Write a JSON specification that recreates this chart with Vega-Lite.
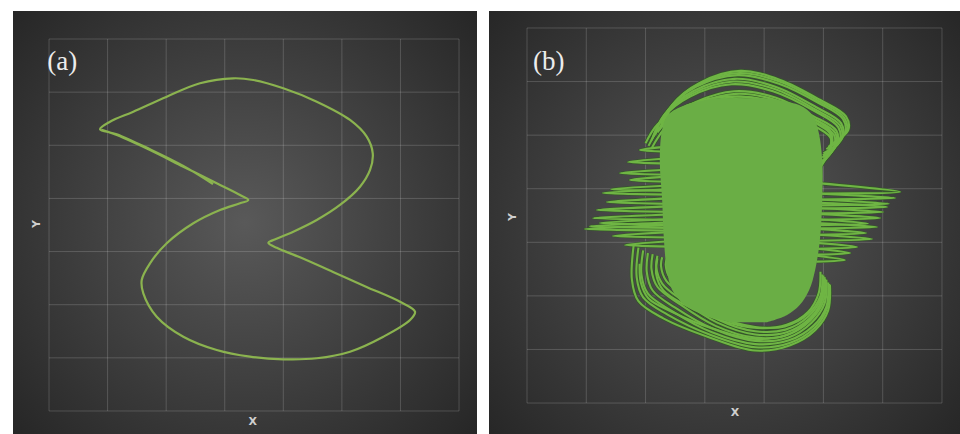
{
  "$schema": "https://vega.github.io/schema/vega-lite/v6.json",
  "background": "white",
  "padding": {"left": 13, "top": 11, "right": 0, "bottom": 0},
  "spacing": 12,
  "config": {"view": {"stroke": null}},
  "datasets": {
    "grid": [{"g": 0}, {"g": 1}, {"g": 2}, {"g": 3}, {"g": 4}, {"g": 5}, {"g": 6}, {"g": 7}],
    "curveA": [
      {"o": 1, "x": 2.80, "y": 4.27}, {"o": 2, "x": 2.293, "y": 4.612}, {"o": 3, "x": 1.724, "y": 4.926}, {"o": 4, "x": 1.156, "y": 5.209},
      {"o": 5, "x": 0.871, "y": 5.301}, {"o": 6, "x": 1.041, "y": 5.444}, {"o": 7, "x": 1.439, "y": 5.632}, {"o": 8, "x": 2.010, "y": 5.915},
      {"o": 9, "x": 2.578, "y": 6.167}, {"o": 10, "x": 3.147, "y": 6.261}, {"o": 11, "x": 3.488, "y": 6.229}, {"o": 12, "x": 4.000, "y": 6.073},
      {"o": 13, "x": 4.571, "y": 5.820}, {"o": 14, "x": 5.139, "y": 5.476}, {"o": 15, "x": 5.424, "y": 5.162}, {"o": 16, "x": 5.527, "y": 4.849},
      {"o": 17, "x": 5.481, "y": 4.535}, {"o": 18, "x": 5.310, "y": 4.221}, {"o": 19, "x": 4.968, "y": 3.877}, {"o": 20, "x": 4.571, "y": 3.594},
      {"o": 21, "x": 4.171, "y": 3.374}, {"o": 22, "x": 3.830, "y": 3.218}, {"o": 23, "x": 3.744, "y": 3.167}, {"o": 24, "x": 3.888, "y": 3.070},
      {"o": 25, "x": 4.285, "y": 2.892}, {"o": 26, "x": 4.849, "y": 2.616}, {"o": 27, "x": 5.412, "y": 2.339}, {"o": 28, "x": 5.993, "y": 2.055},
      {"o": 29, "x": 6.249, "y": 1.869}, {"o": 30, "x": 6.164, "y": 1.712}, {"o": 31, "x": 5.708, "y": 1.398}, {"o": 32, "x": 5.139, "y": 1.116},
      {"o": 33, "x": 4.571, "y": 0.992}, {"o": 34, "x": 4.000, "y": 0.973}, {"o": 35, "x": 3.432, "y": 1.022}, {"o": 36, "x": 2.863, "y": 1.148},
      {"o": 37, "x": 2.293, "y": 1.398}, {"o": 38, "x": 1.839, "y": 1.775}, {"o": 39, "x": 1.610, "y": 2.215}, {"o": 40, "x": 1.583, "y": 2.465},
      {"o": 41, "x": 1.724, "y": 2.779}, {"o": 42, "x": 2.010, "y": 3.156}, {"o": 43, "x": 2.464, "y": 3.532}, {"o": 44, "x": 2.920, "y": 3.782},
      {"o": 45, "x": 3.261, "y": 3.908}, {"o": 46, "x": 3.403, "y": 3.971}, {"o": 47, "x": 3.261, "y": 4.065}, {"o": 48, "x": 2.863, "y": 4.285},
      {"o": 49, "x": 2.293, "y": 4.597}, {"o": 50, "x": 1.724, "y": 4.911}, {"o": 51, "x": 1.156, "y": 5.194}, {"o": 52, "x": 0.90, "y": 5.29}
    ],
    "blob": [
      {"y": 5.69, "xl": 3.17, "xr": 4.01}, {"y": 5.56, "xl": 2.66, "xr": 4.60}, {"y": 5.38, "xl": 2.38, "xr": 4.81},
      {"y": 5.10, "xl": 2.28, "xr": 4.91}, {"y": 4.54, "xl": 2.24, "xr": 4.98}, {"y": 3.79, "xl": 2.28, "xr": 4.98},
      {"y": 3.04, "xl": 2.31, "xr": 4.94}, {"y": 2.48, "xl": 2.36, "xr": 4.86}, {"y": 2.11, "xl": 2.45, "xr": 4.76},
      {"y": 1.83, "xl": 2.66, "xr": 4.60}, {"y": 1.64, "xl": 3.00, "xr": 4.38}, {"y": 1.51, "xl": 3.45, "xr": 4.05}
    ],
    "strands": [
      {"s": "t1", "o": 1, "x": 2.33, "y": 5.19}, {"s": "t1", "o": 2, "x": 2.45, "y": 5.56}, {"s": "t1", "o": 3, "x": 2.92, "y": 5.98}, {"s": "t1", "o": 4, "x": 3.60, "y": 6.20}, {"s": "t1", "o": 5, "x": 4.27, "y": 6.03}, {"s": "t1", "o": 6, "x": 4.94, "y": 5.66}, {"s": "t1", "o": 7, "x": 5.38, "y": 5.35}, {"s": "t1", "o": 8, "x": 5.42, "y": 5.10}, {"s": "t1", "o": 9, "x": 5.11, "y": 4.82},
      {"s": "t9", "o": 1, "x": 2.28, "y": 5.15}, {"s": "t9", "o": 2, "x": 2.42, "y": 5.52}, {"s": "t9", "o": 3, "x": 2.88, "y": 5.94}, {"s": "t9", "o": 4, "x": 3.58, "y": 6.16}, {"s": "t9", "o": 5, "x": 4.26, "y": 6.00}, {"s": "t9", "o": 6, "x": 4.93, "y": 5.63}, {"s": "t9", "o": 7, "x": 5.35, "y": 5.33}, {"s": "t9", "o": 8, "x": 5.39, "y": 5.07}, {"s": "t9", "o": 9, "x": 5.08, "y": 4.78},
      {"s": "t2", "o": 1, "x": 2.24, "y": 5.10}, {"s": "t2", "o": 2, "x": 2.38, "y": 5.47}, {"s": "t2", "o": 3, "x": 2.85, "y": 5.90}, {"s": "t2", "o": 4, "x": 3.55, "y": 6.12}, {"s": "t2", "o": 5, "x": 4.25, "y": 5.96}, {"s": "t2", "o": 6, "x": 4.92, "y": 5.60}, {"s": "t2", "o": 7, "x": 5.33, "y": 5.30}, {"s": "t2", "o": 8, "x": 5.36, "y": 5.03}, {"s": "t2", "o": 9, "x": 5.05, "y": 4.74},
      {"s": "t3", "o": 1, "x": 2.16, "y": 5.00}, {"s": "t3", "o": 2, "x": 2.33, "y": 5.40}, {"s": "t3", "o": 3, "x": 2.80, "y": 5.82}, {"s": "t3", "o": 4, "x": 3.50, "y": 6.05}, {"s": "t3", "o": 5, "x": 4.20, "y": 5.90}, {"s": "t3", "o": 6, "x": 4.88, "y": 5.52}, {"s": "t3", "o": 7, "x": 5.30, "y": 5.22}, {"s": "t3", "o": 8, "x": 5.32, "y": 4.95}, {"s": "t3", "o": 9, "x": 5.00, "y": 4.66},
      {"s": "t10", "o": 1, "x": 2.12, "y": 4.95}, {"s": "t10", "o": 2, "x": 2.31, "y": 5.37}, {"s": "t10", "o": 3, "x": 2.78, "y": 5.77}, {"s": "t10", "o": 4, "x": 3.48, "y": 6.00}, {"s": "t10", "o": 5, "x": 4.18, "y": 5.86}, {"s": "t10", "o": 6, "x": 4.86, "y": 5.48}, {"s": "t10", "o": 7, "x": 5.28, "y": 5.18}, {"s": "t10", "o": 8, "x": 5.30, "y": 4.92}, {"s": "t10", "o": 9, "x": 4.99, "y": 4.62},
      {"s": "t4", "o": 1, "x": 2.10, "y": 4.90}, {"s": "t4", "o": 2, "x": 2.30, "y": 5.33}, {"s": "t4", "o": 3, "x": 2.75, "y": 5.72}, {"s": "t4", "o": 4, "x": 3.45, "y": 5.95}, {"s": "t4", "o": 5, "x": 4.15, "y": 5.82}, {"s": "t4", "o": 6, "x": 4.85, "y": 5.45}, {"s": "t4", "o": 7, "x": 5.25, "y": 5.15}, {"s": "t4", "o": 8, "x": 5.27, "y": 4.88}, {"s": "t4", "o": 9, "x": 4.98, "y": 4.58},
      {"s": "t5", "o": 1, "x": 2.20, "y": 5.05}, {"s": "t5", "o": 2, "x": 2.40, "y": 5.30}, {"s": "t5", "o": 3, "x": 2.85, "y": 5.62}, {"s": "t5", "o": 4, "x": 3.50, "y": 5.82}, {"s": "t5", "o": 5, "x": 4.20, "y": 5.70}, {"s": "t5", "o": 6, "x": 4.82, "y": 5.36}, {"s": "t5", "o": 7, "x": 5.22, "y": 5.08}, {"s": "t5", "o": 8, "x": 5.22, "y": 4.82}, {"s": "t5", "o": 9, "x": 4.96, "y": 4.50},
      {"s": "t12", "o": 1, "x": 2.25, "y": 5.02}, {"s": "t12", "o": 2, "x": 2.45, "y": 5.28}, {"s": "t12", "o": 3, "x": 2.90, "y": 5.59}, {"s": "t12", "o": 4, "x": 3.52, "y": 5.77}, {"s": "t12", "o": 5, "x": 4.21, "y": 5.65}, {"s": "t12", "o": 6, "x": 4.81, "y": 5.32}, {"s": "t12", "o": 7, "x": 5.20, "y": 5.04}, {"s": "t12", "o": 8, "x": 5.20, "y": 4.79}, {"s": "t12", "o": 9, "x": 4.95, "y": 4.48},
      {"s": "t6", "o": 1, "x": 2.30, "y": 5.00}, {"s": "t6", "o": 2, "x": 2.50, "y": 5.25}, {"s": "t6", "o": 3, "x": 2.95, "y": 5.55}, {"s": "t6", "o": 4, "x": 3.55, "y": 5.72}, {"s": "t6", "o": 5, "x": 4.22, "y": 5.60}, {"s": "t6", "o": 6, "x": 4.80, "y": 5.28}, {"s": "t6", "o": 7, "x": 5.18, "y": 5.00}, {"s": "t6", "o": 8, "x": 5.17, "y": 4.75}, {"s": "t6", "o": 9, "x": 4.95, "y": 4.45},
      {"s": "t7", "o": 1, "x": 2.00, "y": 4.85}, {"s": "t7", "o": 2, "x": 2.20, "y": 5.20}, {"s": "t7", "o": 3, "x": 2.60, "y": 5.50}, {"s": "t7", "o": 4, "x": 3.20, "y": 5.70}, {"s": "t7", "o": 5, "x": 3.90, "y": 5.68}, {"s": "t7", "o": 6, "x": 4.60, "y": 5.42}, {"s": "t7", "o": 7, "x": 5.10, "y": 5.10}, {"s": "t7", "o": 8, "x": 5.15, "y": 4.85}, {"s": "t7", "o": 9, "x": 4.93, "y": 4.40},
      {"s": "t11", "o": 1, "x": 2.05, "y": 4.80}, {"s": "t11", "o": 2, "x": 2.27, "y": 5.18}, {"s": "t11", "o": 3, "x": 2.70, "y": 5.48}, {"s": "t11", "o": 4, "x": 3.30, "y": 5.66}, {"s": "t11", "o": 5, "x": 3.98, "y": 5.62}, {"s": "t11", "o": 6, "x": 4.65, "y": 5.34}, {"s": "t11", "o": 7, "x": 5.11, "y": 5.03}, {"s": "t11", "o": 8, "x": 5.12, "y": 4.78}, {"s": "t11", "o": 9, "x": 4.92, "y": 4.38},
      {"s": "t8", "o": 1, "x": 2.10, "y": 4.75}, {"s": "t8", "o": 2, "x": 2.35, "y": 5.15}, {"s": "t8", "o": 3, "x": 2.80, "y": 5.45}, {"s": "t8", "o": 4, "x": 3.40, "y": 5.62}, {"s": "t8", "o": 5, "x": 4.05, "y": 5.55}, {"s": "t8", "o": 6, "x": 4.70, "y": 5.25}, {"s": "t8", "o": 7, "x": 5.12, "y": 4.95}, {"s": "t8", "o": 8, "x": 5.10, "y": 4.70}, {"s": "t8", "o": 9, "x": 4.92, "y": 4.35},
      {"s": "b1", "o": 1, "x": 1.80, "y": 2.95}, {"s": "b1", "o": 2, "x": 1.77, "y": 2.30}, {"s": "b1", "o": 3, "x": 1.88, "y": 1.90}, {"s": "b1", "o": 4, "x": 2.30, "y": 1.58}, {"s": "b1", "o": 5, "x": 3.09, "y": 1.22}, {"s": "b1", "o": 6, "x": 3.85, "y": 0.98}, {"s": "b1", "o": 7, "x": 4.44, "y": 1.08}, {"s": "b1", "o": 8, "x": 4.86, "y": 1.36}, {"s": "b1", "o": 9, "x": 5.08, "y": 1.73}, {"s": "b1", "o": 10, "x": 5.11, "y": 2.20},
      {"s": "b8", "o": 1, "x": 1.88, "y": 2.90}, {"s": "b8", "o": 2, "x": 1.85, "y": 2.35}, {"s": "b8", "o": 3, "x": 1.96, "y": 1.97}, {"s": "b8", "o": 4, "x": 2.37, "y": 1.65}, {"s": "b8", "o": 5, "x": 3.10, "y": 1.27}, {"s": "b8", "o": 6, "x": 3.85, "y": 1.04}, {"s": "b8", "o": 7, "x": 4.43, "y": 1.12}, {"s": "b8", "o": 8, "x": 4.85, "y": 1.40}, {"s": "b8", "o": 9, "x": 5.06, "y": 1.77}, {"s": "b8", "o": 10, "x": 5.10, "y": 2.22},
      {"s": "b2", "o": 1, "x": 1.96, "y": 2.85}, {"s": "b2", "o": 2, "x": 1.93, "y": 2.40}, {"s": "b2", "o": 3, "x": 2.04, "y": 2.04}, {"s": "b2", "o": 4, "x": 2.44, "y": 1.72}, {"s": "b2", "o": 5, "x": 3.12, "y": 1.32}, {"s": "b2", "o": 6, "x": 3.85, "y": 1.10}, {"s": "b2", "o": 7, "x": 4.42, "y": 1.17}, {"s": "b2", "o": 8, "x": 4.83, "y": 1.44}, {"s": "b2", "o": 9, "x": 5.05, "y": 1.80}, {"s": "b2", "o": 10, "x": 5.08, "y": 2.25},
      {"s": "b3", "o": 1, "x": 2.04, "y": 2.80}, {"s": "b3", "o": 2, "x": 2.02, "y": 2.45}, {"s": "b3", "o": 3, "x": 2.12, "y": 2.10}, {"s": "b3", "o": 4, "x": 2.50, "y": 1.78}, {"s": "b3", "o": 5, "x": 3.15, "y": 1.38}, {"s": "b3", "o": 6, "x": 3.85, "y": 1.16}, {"s": "b3", "o": 7, "x": 4.40, "y": 1.22}, {"s": "b3", "o": 8, "x": 4.80, "y": 1.50}, {"s": "b3", "o": 9, "x": 5.02, "y": 1.86}, {"s": "b3", "o": 10, "x": 5.05, "y": 2.30},
      {"s": "b9", "o": 1, "x": 2.12, "y": 2.78}, {"s": "b9", "o": 2, "x": 2.10, "y": 2.50}, {"s": "b9", "o": 3, "x": 2.20, "y": 2.17}, {"s": "b9", "o": 4, "x": 2.57, "y": 1.85}, {"s": "b9", "o": 5, "x": 3.18, "y": 1.44}, {"s": "b9", "o": 6, "x": 3.85, "y": 1.22}, {"s": "b9", "o": 7, "x": 4.39, "y": 1.27}, {"s": "b9", "o": 8, "x": 4.78, "y": 1.54}, {"s": "b9", "o": 9, "x": 5.00, "y": 1.90}, {"s": "b9", "o": 10, "x": 5.03, "y": 2.32},
      {"s": "b4", "o": 1, "x": 2.20, "y": 2.75}, {"s": "b4", "o": 2, "x": 2.18, "y": 2.54}, {"s": "b4", "o": 3, "x": 2.28, "y": 2.23}, {"s": "b4", "o": 4, "x": 2.63, "y": 1.91}, {"s": "b4", "o": 5, "x": 3.21, "y": 1.50}, {"s": "b4", "o": 6, "x": 3.85, "y": 1.28}, {"s": "b4", "o": 7, "x": 4.38, "y": 1.32}, {"s": "b4", "o": 8, "x": 4.77, "y": 1.58}, {"s": "b4", "o": 9, "x": 4.98, "y": 1.93}, {"s": "b4", "o": 10, "x": 5.02, "y": 2.35},
      {"s": "b10", "o": 1, "x": 2.28, "y": 2.72}, {"s": "b10", "o": 2, "x": 2.26, "y": 2.56}, {"s": "b10", "o": 3, "x": 2.35, "y": 2.28}, {"s": "b10", "o": 4, "x": 2.70, "y": 1.97}, {"s": "b10", "o": 5, "x": 3.24, "y": 1.55}, {"s": "b10", "o": 6, "x": 3.85, "y": 1.34}, {"s": "b10", "o": 7, "x": 4.36, "y": 1.37}, {"s": "b10", "o": 8, "x": 4.75, "y": 1.62}, {"s": "b10", "o": 9, "x": 4.96, "y": 1.96}, {"s": "b10", "o": 10, "x": 5.00, "y": 2.38},
      {"s": "b5", "o": 1, "x": 2.36, "y": 2.70}, {"s": "b5", "o": 2, "x": 2.34, "y": 2.58}, {"s": "b5", "o": 3, "x": 2.42, "y": 2.32}, {"s": "b5", "o": 4, "x": 2.76, "y": 2.02}, {"s": "b5", "o": 5, "x": 3.27, "y": 1.60}, {"s": "b5", "o": 6, "x": 3.85, "y": 1.42}, {"s": "b5", "o": 7, "x": 4.35, "y": 1.43}, {"s": "b5", "o": 8, "x": 4.74, "y": 1.66}, {"s": "b5", "o": 9, "x": 4.95, "y": 2.00}, {"s": "b5", "o": 10, "x": 4.98, "y": 2.40},
      {"s": "b6", "o": 1, "x": 1.90, "y": 2.60}, {"s": "b6", "o": 2, "x": 1.92, "y": 2.25}, {"s": "b6", "o": 3, "x": 2.05, "y": 1.95}, {"s": "b6", "o": 4, "x": 2.45, "y": 1.70}, {"s": "b6", "o": 5, "x": 3.10, "y": 1.40}, {"s": "b6", "o": 6, "x": 3.80, "y": 1.20}, {"s": "b6", "o": 7, "x": 4.35, "y": 1.26}, {"s": "b6", "o": 8, "x": 4.72, "y": 1.50}, {"s": "b6", "o": 9, "x": 4.95, "y": 1.85}, {"s": "b6", "o": 10, "x": 5.00, "y": 2.20},
      {"s": "b7", "o": 1, "x": 2.20, "y": 2.70}, {"s": "b7", "o": 2, "x": 2.18, "y": 2.40}, {"s": "b7", "o": 3, "x": 2.30, "y": 2.10}, {"s": "b7", "o": 4, "x": 2.65, "y": 1.84}, {"s": "b7", "o": 5, "x": 3.25, "y": 1.55}, {"s": "b7", "o": 6, "x": 3.88, "y": 1.40}, {"s": "b7", "o": 7, "x": 4.38, "y": 1.46}, {"s": "b7", "o": 8, "x": 4.74, "y": 1.70}, {"s": "b7", "o": 9, "x": 4.92, "y": 2.05}, {"s": "b7", "o": 10, "x": 4.95, "y": 2.45},
      {"s": "l1", "o": 1, "x": 2.40, "y": 4.79}, {"s": "l1", "o": 2, "x": 1.906, "y": 4.723}, {"s": "l1", "o": 3, "x": 2.40, "y": 4.69},
      {"s": "l2", "o": 1, "x": 2.40, "y": 4.57}, {"s": "l2", "o": 2, "x": 1.704, "y": 4.499}, {"s": "l2", "o": 3, "x": 2.40, "y": 4.47},
      {"s": "l3", "o": 1, "x": 2.40, "y": 4.36}, {"s": "l3", "o": 2, "x": 1.569, "y": 4.293}, {"s": "l3", "o": 3, "x": 2.40, "y": 4.26},
      {"s": "l4", "o": 1, "x": 2.40, "y": 4.23}, {"s": "l4", "o": 2, "x": 1.737, "y": 4.163}, {"s": "l4", "o": 3, "x": 2.40, "y": 4.13},
      {"s": "l13", "o": 1, "x": 2.40, "y": 4.06}, {"s": "l13", "o": 2, "x": 1.420, "y": 3.990}, {"s": "l13", "o": 3, "x": 2.40, "y": 3.96},
      {"s": "l5", "o": 1, "x": 2.40, "y": 3.99}, {"s": "l5", "o": 2, "x": 1.282, "y": 3.920}, {"s": "l5", "o": 3, "x": 2.40, "y": 3.89},
      {"s": "l6", "o": 1, "x": 2.40, "y": 3.82}, {"s": "l6", "o": 2, "x": 1.349, "y": 3.752}, {"s": "l6", "o": 3, "x": 2.40, "y": 3.72},
      {"s": "l7", "o": 1, "x": 2.40, "y": 3.67}, {"s": "l7", "o": 2, "x": 1.181, "y": 3.603}, {"s": "l7", "o": 3, "x": 2.40, "y": 3.57},
      {"s": "l8", "o": 1, "x": 2.40, "y": 3.52}, {"s": "l8", "o": 2, "x": 1.113, "y": 3.453}, {"s": "l8", "o": 3, "x": 2.40, "y": 3.42},
      {"s": "l9", "o": 1, "x": 2.40, "y": 3.43}, {"s": "l9", "o": 2, "x": 1.231, "y": 3.360}, {"s": "l9", "o": 3, "x": 2.40, "y": 3.33},
      {"s": "l14", "o": 1, "x": 2.40, "y": 3.37}, {"s": "l14", "o": 2, "x": 1.060, "y": 3.300}, {"s": "l14", "o": 3, "x": 2.40, "y": 3.27},
      {"s": "l10", "o": 1, "x": 2.40, "y": 3.32}, {"s": "l10", "o": 2, "x": 0.978, "y": 3.248}, {"s": "l10", "o": 3, "x": 2.40, "y": 3.22},
      {"s": "l11", "o": 1, "x": 2.40, "y": 3.19}, {"s": "l11", "o": 2, "x": 1.450, "y": 3.117}, {"s": "l11", "o": 3, "x": 2.40, "y": 3.09},
      {"s": "l12", "o": 1, "x": 2.40, "y": 3.02}, {"s": "l12", "o": 2, "x": 1.653, "y": 2.949}, {"s": "l12", "o": 3, "x": 2.40, "y": 2.92},
      {"s": "r1", "o": 1, "x": 4.95, "y": 4.10}, {"s": "r1", "o": 2, "x": 6.291, "y": 3.939}, {"s": "r1", "o": 3, "x": 4.88, "y": 3.91},
      {"s": "r2", "o": 1, "x": 4.88, "y": 3.91}, {"s": "r2", "o": 2, "x": 6.207, "y": 3.827}, {"s": "r2", "o": 3, "x": 4.88, "y": 3.80},
      {"s": "r12", "o": 1, "x": 4.88, "y": 3.80}, {"s": "r12", "o": 2, "x": 6.100, "y": 3.720}, {"s": "r12", "o": 3, "x": 4.88, "y": 3.69},
      {"s": "r3", "o": 1, "x": 4.88, "y": 3.74}, {"s": "r3", "o": 2, "x": 6.072, "y": 3.659}, {"s": "r3", "o": 3, "x": 4.88, "y": 3.63},
      {"s": "r4", "o": 1, "x": 4.88, "y": 3.64}, {"s": "r4", "o": 2, "x": 6.004, "y": 3.565}, {"s": "r4", "o": 3, "x": 4.88, "y": 3.54},
      {"s": "r5", "o": 1, "x": 4.88, "y": 3.53}, {"s": "r5", "o": 2, "x": 5.954, "y": 3.453}, {"s": "r5", "o": 3, "x": 4.88, "y": 3.42},
      {"s": "r13", "o": 1, "x": 4.88, "y": 3.43}, {"s": "r13", "o": 2, "x": 5.750, "y": 3.350}, {"s": "r13", "o": 3, "x": 4.88, "y": 3.32},
      {"s": "r6", "o": 1, "x": 4.88, "y": 3.36}, {"s": "r6", "o": 2, "x": 5.903, "y": 3.285}, {"s": "r6", "o": 3, "x": 4.88, "y": 3.26},
      {"s": "r7", "o": 1, "x": 4.88, "y": 3.25}, {"s": "r7", "o": 2, "x": 5.718, "y": 3.173}, {"s": "r7", "o": 3, "x": 4.88, "y": 3.14},
      {"s": "r8", "o": 1, "x": 4.88, "y": 3.14}, {"s": "r8", "o": 2, "x": 5.819, "y": 3.061}, {"s": "r8", "o": 3, "x": 4.88, "y": 3.03},
      {"s": "r9", "o": 1, "x": 4.88, "y": 2.99}, {"s": "r9", "o": 2, "x": 5.566, "y": 2.912}, {"s": "r9", "o": 3, "x": 4.88, "y": 2.88},
      {"s": "r10", "o": 1, "x": 4.88, "y": 2.88}, {"s": "r10", "o": 2, "x": 5.448, "y": 2.800}, {"s": "r10", "o": 3, "x": 4.88, "y": 2.77},
      {"s": "r11", "o": 1, "x": 4.88, "y": 2.75}, {"s": "r11", "o": 2, "x": 5.363, "y": 2.669}, {"s": "r11", "o": 3, "x": 4.88, "y": 2.64}
    ]
  },
  "hconcat": [
    {
      "width": 464,
      "height": 423,
      "layer": [
        {
          "data": {"values": [{"k": 1}]},
          "mark": {"type": "rect", "color": {"gradient": "radial", "x1": 0.5, "y1": 0.5, "r1": 0, "x2": 0.5, "y2": 0.5, "r2": 0.72, "stops": [{"offset": 0, "color": "#595959"}, {"offset": 1, "color": "#232323"}]}},
          "encoding": {
            "x": {"datum": -0.615, "type": "quantitative", "scale": {"domain": [-0.615, 7.307], "nice": false, "zero": false}, "axis": null},
            "x2": {"datum": 7.307},
            "y": {"datum": -0.433, "type": "quantitative", "scale": {"domain": [-0.433, 7.527], "nice": false, "zero": false}, "axis": null},
            "y2": {"datum": 7.527}
          }
        },
        {
          "data": {"name": "grid"},
          "mark": {"type": "rule", "color": "#ffffff", "opacity": 0.17, "strokeWidth": 1},
          "encoding": {
            "x": {"field": "g", "type": "quantitative", "scale": {"domain": [-0.615, 7.307], "nice": false, "zero": false}, "axis": null},
            "y": {"datum": 0, "type": "quantitative", "scale": {"domain": [-0.433, 7.527], "nice": false, "zero": false}, "axis": null},
            "y2": {"datum": 7}
          }
        },
        {
          "data": {"name": "grid"},
          "mark": {"type": "rule", "color": "#ffffff", "opacity": 0.17, "strokeWidth": 1},
          "encoding": {
            "y": {"field": "g", "type": "quantitative", "scale": {"domain": [-0.433, 7.527], "nice": false, "zero": false}, "axis": null},
            "x": {"datum": 0, "type": "quantitative", "scale": {"domain": [-0.615, 7.307], "nice": false, "zero": false}, "axis": null},
            "x2": {"datum": 7}
          }
        },
        {
          "data": {"name": "curveA"},
          "mark": {"type": "line", "color": "#8bb34f", "strokeWidth": 2.2, "interpolate": "catmull-rom"},
          "encoding": {
            "x": {"field": "x", "type": "quantitative", "scale": {"domain": [-0.615, 7.307], "nice": false, "zero": false}, "axis": null},
            "y": {"field": "y", "type": "quantitative", "scale": {"domain": [-0.433, 7.527], "nice": false, "zero": false}, "axis": null},
            "order": {"field": "o", "type": "quantitative"}
          }
        },
        {
          "data": {"values": [{"t": "(a)", "x": -0.03, "y": 6.57}]},
          "mark": {"type": "text", "font": "Liberation Serif", "fontSize": 27, "color": "#ececec", "align": "left", "baseline": "middle"},
          "encoding": {
            "x": {"field": "x", "type": "quantitative", "scale": {"domain": [-0.615, 7.307], "nice": false, "zero": false}, "axis": null},
            "y": {"field": "y", "type": "quantitative", "scale": {"domain": [-0.433, 7.527], "nice": false, "zero": false}, "axis": null},
            "text": {"field": "t"}
          }
        },
        {
          "data": {"values": [{"t": "X", "x": 3.48, "y": -0.21, "a": 0}, {"t": "Y", "x": -0.205, "y": 3.52, "a": 270}]},
          "mark": {"type": "text", "font": "DejaVu Sans", "fontWeight": "bold", "fontSize": 11, "color": "#cfcfcf", "align": "center", "baseline": "middle"},
          "encoding": {
            "x": {"field": "x", "type": "quantitative", "scale": {"domain": [-0.615, 7.307], "nice": false, "zero": false}, "axis": null},
            "y": {"field": "y", "type": "quantitative", "scale": {"domain": [-0.433, 7.527], "nice": false, "zero": false}, "axis": null},
            "angle": {"field": "a", "type": "quantitative", "scale": null},
            "text": {"field": "t"}
          }
        }
      ]
    },
    {
      "width": 471,
      "height": 423,
      "layer": [
        {
          "data": {"values": [{"k": 1}]},
          "mark": {"type": "rect", "color": {"gradient": "radial", "x1": 0.5, "y1": 0.5, "r1": 0, "x2": 0.5, "y2": 0.5, "r2": 0.72, "stops": [{"offset": 0, "color": "#595959"}, {"offset": 1, "color": "#232323"}]}},
          "encoding": {
            "x": {"datum": -0.641, "type": "quantitative", "scale": {"domain": [-0.641, 7.304], "nice": false, "zero": false}, "axis": null},
            "x2": {"datum": 7.304},
            "y": {"datum": -0.578, "type": "quantitative", "scale": {"domain": [-0.578, 7.317], "nice": false, "zero": false}, "axis": null},
            "y2": {"datum": 7.317}
          }
        },
        {
          "data": {"name": "grid"},
          "mark": {"type": "rule", "color": "#ffffff", "opacity": 0.17, "strokeWidth": 1},
          "encoding": {
            "x": {"field": "g", "type": "quantitative", "scale": {"domain": [-0.641, 7.304], "nice": false, "zero": false}, "axis": null},
            "y": {"datum": 0, "type": "quantitative", "scale": {"domain": [-0.578, 7.317], "nice": false, "zero": false}, "axis": null},
            "y2": {"datum": 7}
          }
        },
        {
          "data": {"name": "grid"},
          "mark": {"type": "rule", "color": "#ffffff", "opacity": 0.17, "strokeWidth": 1},
          "encoding": {
            "y": {"field": "g", "type": "quantitative", "scale": {"domain": [-0.578, 7.317], "nice": false, "zero": false}, "axis": null},
            "x": {"datum": 0, "type": "quantitative", "scale": {"domain": [-0.641, 7.304], "nice": false, "zero": false}, "axis": null},
            "x2": {"datum": 7}
          }
        },
        {
          "data": {"name": "strands"},
          "mark": {"type": "line", "color": "#35562a", "strokeWidth": 3.6, "interpolate": "catmull-rom"},
          "encoding": {
            "x": {"field": "x", "type": "quantitative", "scale": {"domain": [-0.641, 7.304], "nice": false, "zero": false}, "axis": null},
            "y": {"field": "y", "type": "quantitative", "scale": {"domain": [-0.578, 7.317], "nice": false, "zero": false}, "axis": null},
            "detail": {"field": "s", "type": "nominal"},
            "order": {"field": "o", "type": "quantitative"}
          }
        },
        {
          "data": {"name": "strands"},
          "mark": {"type": "line", "color": "#6fb544", "strokeWidth": 2.1, "interpolate": "catmull-rom"},
          "encoding": {
            "x": {"field": "x", "type": "quantitative", "scale": {"domain": [-0.641, 7.304], "nice": false, "zero": false}, "axis": null},
            "y": {"field": "y", "type": "quantitative", "scale": {"domain": [-0.578, 7.317], "nice": false, "zero": false}, "axis": null},
            "detail": {"field": "s", "type": "nominal"},
            "order": {"field": "o", "type": "quantitative"}
          }
        },
        {
          "data": {"name": "blob"},
          "mark": {"type": "area", "orient": "horizontal", "color": "#6aae45", "opacity": 1, "interpolate": "catmull-rom"},
          "encoding": {
            "y": {"field": "y", "type": "quantitative", "scale": {"domain": [-0.578, 7.317], "nice": false, "zero": false}, "axis": null},
            "x": {"field": "xl", "type": "quantitative", "scale": {"domain": [-0.641, 7.304], "nice": false, "zero": false}, "axis": null},
            "x2": {"field": "xr"}
          }
        },
        {
          "data": {"values": [{"t": "(b)", "x": 0.10, "y": 6.37}]},
          "mark": {"type": "text", "font": "Liberation Serif", "fontSize": 27, "color": "#ececec", "align": "left", "baseline": "middle"},
          "encoding": {
            "x": {"field": "x", "type": "quantitative", "scale": {"domain": [-0.641, 7.304], "nice": false, "zero": false}, "axis": null},
            "y": {"field": "y", "type": "quantitative", "scale": {"domain": [-0.578, 7.317], "nice": false, "zero": false}, "axis": null},
            "text": {"field": "t"}
          }
        },
        {
          "data": {"values": [{"t": "X", "x": 3.51, "y": -0.19, "a": 0}, {"t": "Y", "x": -0.236, "y": 3.47, "a": 270}]},
          "mark": {"type": "text", "font": "DejaVu Sans", "fontWeight": "bold", "fontSize": 11, "color": "#cfcfcf", "align": "center", "baseline": "middle"},
          "encoding": {
            "x": {"field": "x", "type": "quantitative", "scale": {"domain": [-0.641, 7.304], "nice": false, "zero": false}, "axis": null},
            "y": {"field": "y", "type": "quantitative", "scale": {"domain": [-0.578, 7.317], "nice": false, "zero": false}, "axis": null},
            "angle": {"field": "a", "type": "quantitative", "scale": null},
            "text": {"field": "t"}
          }
        }
      ]
    }
  ]
}
